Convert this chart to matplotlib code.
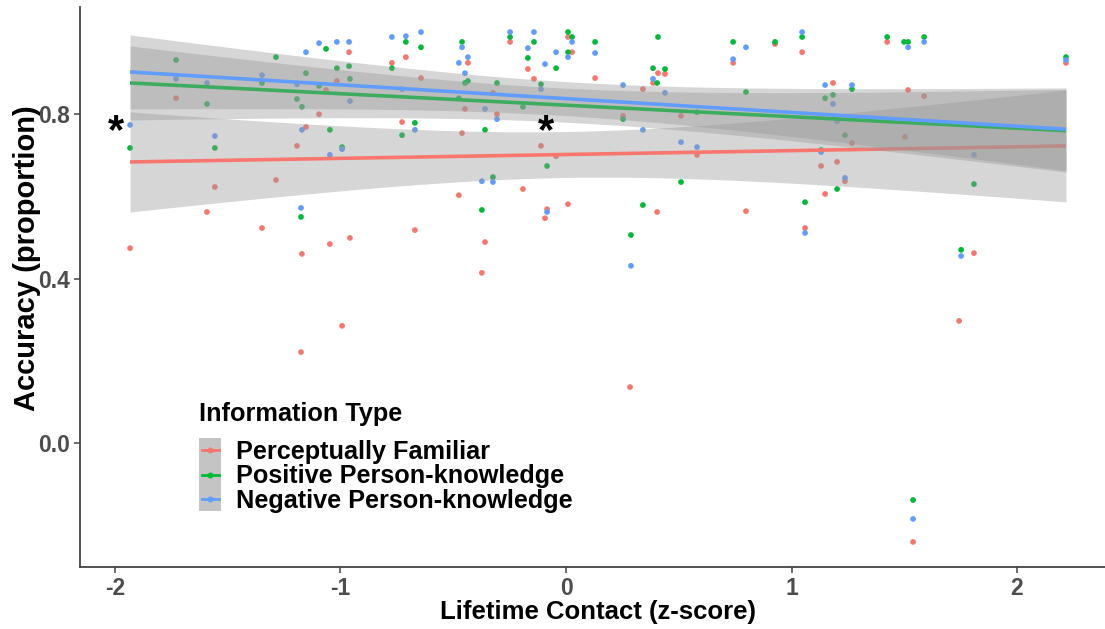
import matplotlib
matplotlib.use("Agg")
import matplotlib.pyplot as plt
import numpy as np
import matplotlib.transforms as mtransforms
from matplotlib.patches import Rectangle
from matplotlib.lines import Line2D

plt.rcParams['font.family'] = ['Liberation Sans', 'DejaVu Sans']

# ---------------- data ----------------
series_names = ["Perceptually Familiar", "Positive Person-knowledge", "Negative Person-knowledge"]
series_colors = ["#F8766D", "#00BA38", "#619CFF"]
legend_title = "Information Type"

red_x = [-1.933, -1.729, -1.592, -1.557, -1.286, -1.348, -1.153, -1.193, -1.171, -1.047,
         -1.016, -1.064, -1.095, -0.993, -1.175, -0.962, -0.958, -0.772, -0.710, -0.643,
         -0.727, -0.670, -0.435, -0.448, -0.461, -0.324, -0.306, -0.475, -0.359, -0.373,
         -0.248, -0.169, -0.142, -0.111, -0.044, -0.191, -0.084, -0.093, 0.009, 0.009,
         0.027, 0.129, 0.408, 0.439, 0.386, 0.341, 0.253, 0.510, 0.581, 0.404,
         0.284, 0.741, 0.927, 0.798, 1.047, 1.184, 1.131, 1.202, 1.149, 1.060,
         1.268, 1.237, 1.424, 1.517, 1.588, 1.503, 1.809, 2.217, 1.743, 1.539]
red_y = [0.474, 0.839, 0.562, 0.623, 0.640, 0.523, 0.769, 0.723, 0.460, 0.484,
         0.881, 0.859, 0.800, 0.285, 0.221, 0.951, 0.499, 0.925, 0.939, 0.888,
         0.781, 0.518, 0.925, 0.813, 0.754, 0.852, 0.800, 0.603, 0.489, 0.414,
         0.976, 0.910, 0.886, 0.723, 0.698, 0.618, 0.569, 0.547, 0.581, 0.988,
         0.951, 0.888, 0.900, 0.898, 0.876, 0.861, 0.796, 0.796, 0.701, 0.562,
         0.136, 0.925, 0.971, 0.564, 0.951, 0.876, 0.674, 0.684, 0.606, 0.523,
         0.730, 0.637, 0.976, 0.859, 0.844, 0.745, 0.462, 0.925, 0.297, -0.241]

green_x = [-1.933, -1.729, -1.592, -1.557, -1.286, -1.348, -1.153, -1.193, -1.171, -1.175,
           -1.064, -1.016, -1.095, -1.047, -0.993, -0.962, -0.958, -0.710, -0.643, -0.772,
           -0.670, -0.727, -0.461, -0.435, -0.448, -0.475, -0.359, -0.306, -0.324, -0.373,
           -0.248, -0.142, -0.169, -0.111, -0.191, -0.084, -0.044, 0.009, 0.027, 0.009,
           0.129, 0.408, 0.386, 0.439, 0.404, 0.253, 0.581, 0.510, 0.341, 0.288,
           0.741, 0.927, 0.798, 1.047, 1.149, 1.184, 1.131, 1.202, 1.060, 1.268,
           1.237, 1.424, 1.499, 1.517, 1.588, 1.809, 1.752, 2.217, 1.539]
green_y = [0.718, 0.932, 0.825, 0.718, 0.939, 0.876, 0.900, 0.837, 0.818, 0.550,
           0.959, 0.912, 0.869, 0.762, 0.720, 0.917, 0.886, 0.976, 0.963, 0.912,
           0.779, 0.749, 0.976, 0.881, 0.876, 0.839, 0.762, 0.876, 0.647, 0.567,
           0.988, 0.976, 0.937, 0.873, 0.818, 0.674, 0.912, 1.000, 0.988, 0.951,
           0.976, 0.988, 0.912, 0.910, 0.876, 0.788, 0.805, 0.635, 0.579, 0.506,
           0.976, 0.976, 0.854, 0.988, 0.839, 0.847, 0.713, 0.618, 0.586, 0.861,
           0.749, 0.988, 0.976, 0.976, 0.988, 0.630, 0.470, 0.939, -0.139]

blue_x = [-1.933, -1.729, -1.592, -1.557, -1.348, -1.153, -1.193, -1.171, -1.175, -1.095,
          -1.016, -1.047, -0.993, -0.962, -0.958, -0.772, -0.710, -0.643, -0.727, -0.670,
          -0.461, -0.435, -0.475, -0.448, -0.359, -0.306, -0.373, -0.324, -0.248, -0.142,
          -0.169, -0.111, -0.084, -0.044, -0.093, 0.027, 0.009, 0.129, 0.386, 0.253,
          0.439, 0.341, 0.510, 0.581, 0.288, 0.741, 0.798, 1.047, 1.149, 1.184,
          1.202, 1.131, 1.060, 1.268, 1.237, 1.517, 1.588, 1.809, 1.752, 2.217, 1.539]
blue_y = [0.774, 0.886, 0.876, 0.747, 0.895, 0.951, 0.873, 0.762, 0.572, 0.973,
          0.976, 0.701, 0.715, 0.976, 0.832, 0.988, 0.990, 1.000, 0.861, 0.762,
          0.963, 0.939, 0.925, 0.900, 0.813, 0.788, 0.637, 0.635, 1.000, 1.000,
          0.961, 0.861, 0.562, 0.951, 0.922, 0.976, 0.939, 0.949, 0.886, 0.871,
          0.852, 0.762, 0.732, 0.720, 0.431, 0.934, 0.963, 1.000, 0.871, 0.825,
          0.783, 0.708, 0.511, 0.871, 0.645, 0.963, 0.976, 0.701, 0.455, 0.932, -0.185]

# fitted linear trends (intercept at x=0, slope) and CI half-width at x=0
fit_intercept = [0.702, 0.822, 0.838]
fit_slope = [0.0094, -0.028, -0.0336]
ci_halfwidth0 = [0.056, 0.0414, 0.0414]

x_ticks = [-2, -1, 0, 1, 2]
x_ticklabels = ["-2", "-1", "0", "1", "2"]
y_ticks = [0.0, 0.4, 0.8]
y_ticklabels = ["0.0", "0.4", "0.8"]

star_x = [-1.996, -0.089]
star_y = [0.774, 0.774]

# ---------------- plot ----------------
W, H = 1105, 629
fig = plt.figure(figsize=(W / 100, H / 100), dpi=100)
ax = fig.add_axes([80 / W, 1 - 567 / H, 1 - 80 / W, (567 - 7) / H])

xs_all = [red_x, green_x, blue_x]
ys_all = [red_y, green_y, blue_y]

for xs, ys, col in zip(xs_all, ys_all, series_colors):
    ax.scatter(xs, ys, s=17, color=col, edgecolors='none', zorder=2)

z = 3
for i, (xs, col) in enumerate(zip(xs_all, series_colors)):
    xg = np.linspace(min(xs), max(xs), 200)
    yfit = fit_intercept[i] + fit_slope[i] * xg
    hw = ci_halfwidth0[i] * np.sqrt(1 + xg ** 2)
    ax.fill_between(xg, yfit - hw, yfit + hw, color='#999999', alpha=0.4, linewidth=0, zorder=z)
    ax.plot(xg, yfit, color=col, lw=2.6, zorder=z + 0.5, solid_capstyle='butt')
    z += 1

star_off = mtransforms.offset_copy(ax.transData, fig=fig, x=0, y=-7, units='dots')
for sx, sy in zip(star_x, star_y):
    ax.text(sx, sy, "*", fontsize=30, fontweight='bold', ha='center', va='center',
            color='black', zorder=10, transform=star_off)

ax.set_xlim(-2.155, 2.39)
ax.set_ylim(-0.302, 1.061)
ax.set_xticks(x_ticks)
ax.set_xticklabels(x_ticklabels)
ax.set_yticks(y_ticks)
ax.set_yticklabels(y_ticklabels)
for s in ['top', 'right']:
    ax.spines[s].set_visible(False)
for s in ['left', 'bottom']:
    ax.spines[s].set_color('#444444')
    ax.spines[s].set_linewidth(1.3)
ax.tick_params(axis='both', length=4, width=1.1, color='#444444', labelsize=16.5,
               labelcolor='#4D4D4D', pad=3)
for lab in ax.get_xticklabels() + ax.get_yticklabels():
    lab.set_fontweight('bold')

ax.set_xlabel("Lifetime Contact (z-score)", fontsize=18.5, fontweight='bold', color='black')
ax.xaxis.set_label_coords((597.5 - 80) / 1025, (567 - 600) / 560)
ax.set_ylabel("Accuracy (proportion)", fontsize=21, fontweight='bold', color='black')
ax.yaxis.set_label_coords((41 - 80) / 1025, (567 - 258) / 560)

# ---- legend (ggplot-style, drawn in figure pixel positions) ----
def fx(px):
    return px / W

def fy(py):
    return 1 - py / H

fig.text(fx(199), fy(421.5), legend_title, fontsize=18.2, fontweight='bold',
         ha='left', va='baseline', color='black')
fig.patches.append(Rectangle((fx(199), fy(510.5)), fx(221) - fx(199), fy(437.7) - fy(510.5),
                             transform=fig.transFigure, facecolor='#C4C4C4', edgecolor='none'))
row_centers = [450, 474.5, 499]
for name, col, rc in zip(series_names, series_colors, row_centers):
    fig.lines.append(Line2D([fx(201.5), fx(219)], [fy(rc), fy(rc)], transform=fig.transFigure,
                            color=col, lw=2))
    fig.lines.append(Line2D([fx(210)], [fy(rc)], transform=fig.transFigure, color=col,
                            marker='o', markersize=4.3, markeredgewidth=0, linestyle='none'))
    fig.text(fx(235.5), fy(rc + 9), name, fontsize=18.2, fontweight='bold',
             ha='left', va='baseline', color='black')

fig.savefig("out.png", dpi=100)
